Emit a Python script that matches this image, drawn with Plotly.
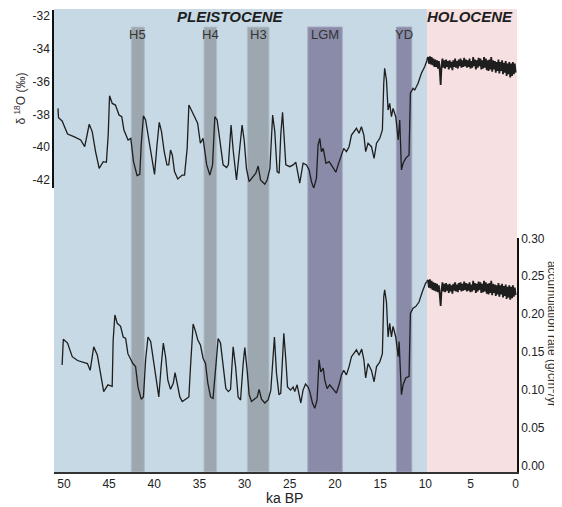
import plotly.graph_objects as go

# ---------------- data ----------------
glacial_age_top = [50.66, 50.6, 50.2, 49.6, 48.9, 48.15, 47.7, 47.2, 46.87, 46.5, 46.1, 45.65, 45.3, 45.1,
    44.95, 44.65, 44.3, 43.9, 43.6, 43.36, 42.9, 42.6, 42.3, 41.9, 41.6, 41.45, 41.2, 40.96, 40.6, 40.2,
    39.97, 39.7, 39.45, 39.2, 38.9, 38.6, 38.4, 38.2, 38.0, 37.76, 37.4, 36.9, 36.65, 36.36, 36.17, 35.9,
    35.6, 35.2, 34.9, 34.6, 34.2, 33.85, 33.55, 33.3, 33.04, 32.74, 32.38, 32.0, 31.8, 31.5, 31.27, 30.9,
    30.6, 30.28, 30.05, 29.8, 29.5, 29.13, 28.76, 28.5, 28.24, 27.77, 27.5, 27.2, 26.9, 26.66, 26.4, 26.18,
    26.0, 25.8, 25.66, 25.44, 25.0, 24.63, 24.33, 24.08, 23.9, 23.53, 23.15, 22.86, 22.6, 22.35, 22.05,
    21.87, 21.68, 21.5, 21.3, 21.0, 20.65, 20.28, 19.9, 19.65, 19.28, 19.03, 18.73, 18.44, 18.17, 17.92,
    17.62, 17.33, 17.07, 16.8, 16.6, 16.34, 15.96, 15.67, 15.4, 15.04, 14.75, 14.6, 14.5, 14.3, 14.12,
    13.94, 13.75, 13.57, 13.27, 13.0, 12.83, 12.64, 12.46, 12.17, 11.8, 11.65, 11.36, 11.17, 10.8, 10.43,
    10.07, 9.8]
glacial_d18o = [-37.63, -38.2, -38.4, -39.2, -39.36, -39.56, -39.97, -38.6, -39.05, -40.27, -41.29, -40.88,
    -40.92, -39.26, -36.86, -37.33, -37.43, -38.04, -38.14, -38.95, -39.56, -39.46, -40.88, -41.73, -41.66,
    -39.87, -38.08, -38.34, -39.56, -40.88, -41.66, -39.87, -38.48, -39.05, -40.27, -41.08, -41.08, -40.17,
    -40.48, -41.49, -41.94, -41.7, -41.7, -40.07, -37.43, -37.73, -38.04, -38.54, -39.76, -39.46, -41.08,
    -41.7, -41.08, -38.14, -38.34, -39.56, -41.08, -41.24, -41.08, -38.65, -40.17, -42.0, -40.27, -38.65,
    -39.56, -41.29, -42.1, -41.86, -41.59, -41.15, -42.0, -42.26, -42.0, -41.29, -38.04, -39.05, -41.49,
    -41.59, -39.26, -37.87, -39.26, -41.08, -41.19, -41.08, -40.92, -41.7, -42.2, -40.98, -41.08, -41.39,
    -42.1, -42.5, -41.9, -39.87, -39.46, -40.27, -40.07, -40.98, -40.88, -41.19, -41.53, -41.08, -40.48,
    -40.07, -40.27, -39.97, -39.26, -39.05, -38.85, -39.15, -38.75, -39.26, -40.27, -39.76, -39.97, -40.68,
    -39.76, -39.46, -38.95, -36.1, -35.19, -35.9, -37.73, -37.33, -38.14, -37.63, -38.14, -39.56, -38.34,
    -41.39, -40.98, -40.68, -40.48, -36.71, -36.41, -36.51, -36.1, -35.49, -35.09, -34.68]

glacial_age_bot = [50.2, 50.07, 49.6, 49.08, 48.5, 47.97, 47.4, 47.1, 46.7, 46.3, 45.9, 45.6, 45.13, 44.66,
    44.55, 44.36, 44.1, 43.73, 43.44, 43.17, 42.92, 42.62, 42.37, 42.07, 41.8, 41.45, 41.2, 40.96, 40.7,
    40.4, 40.04, 39.75, 39.5, 39.24, 39.0, 38.75, 38.5, 38.2, 37.9, 37.7, 37.47, 37.17, 36.9, 36.54, 36.17,
    35.99, 35.7, 35.43, 35.18, 34.88, 34.6, 34.33, 34.07, 33.77, 33.5, 33.19, 32.93, 32.67, 32.38, 32.08,
    31.8, 31.56, 31.27, 31.0, 30.72, 30.45, 30.16, 29.98, 29.72, 29.5, 29.24, 28.87, 28.6, 28.4, 28.13,
    27.77, 27.4, 27.1, 26.85, 26.7, 26.47, 26.2, 26.0, 25.8, 25.66, 25.44, 25.25, 24.92, 24.63, 24.45,
    24.19, 23.97, 23.78, 23.53, 23.26, 22.98, 22.79, 22.49, 22.23, 21.98, 21.76, 21.57, 21.3, 21.13,
    20.87, 20.58, 20.2, 19.84, 19.55, 19.28, 19.03, 18.73, 18.44, 18.17, 17.92, 17.62, 17.33, 17.04,
    16.8, 16.6, 16.34, 15.96, 15.67, 15.4, 15.04, 14.75, 14.6, 14.5, 14.3, 14.12, 13.94, 13.75, 13.57,
    13.27, 13.0, 12.9, 12.64, 12.46, 12.17, 11.8, 11.65, 11.36, 11.06, 10.7, 10.32, 9.96, 9.8]
glacial_acc = [0.133, 0.167, 0.162, 0.144, 0.139, 0.137, 0.135, 0.126, 0.157, 0.146, 0.118, 0.098, 0.107,
    0.105, 0.166, 0.199, 0.188, 0.184, 0.170, 0.168, 0.148, 0.140, 0.135, 0.131, 0.104, 0.088, 0.091,
    0.140, 0.170, 0.164, 0.135, 0.109, 0.091, 0.131, 0.162, 0.144, 0.113, 0.101, 0.109, 0.123, 0.109,
    0.091, 0.085, 0.088, 0.091, 0.131, 0.187, 0.177, 0.166, 0.159, 0.142, 0.135, 0.109, 0.091, 0.089,
    0.131, 0.168, 0.162, 0.131, 0.102, 0.098, 0.101, 0.157, 0.131, 0.091, 0.087, 0.135, 0.156, 0.126,
    0.094, 0.085, 0.089, 0.091, 0.101, 0.088, 0.083, 0.087, 0.100, 0.153, 0.170, 0.122, 0.094, 0.096,
    0.140, 0.175, 0.140, 0.104, 0.100, 0.104, 0.098, 0.107, 0.094, 0.083, 0.100, 0.108, 0.104, 0.098,
    0.083, 0.076, 0.087, 0.140, 0.124, 0.129, 0.113, 0.102, 0.107, 0.102, 0.096, 0.107, 0.120, 0.126,
    0.120, 0.131, 0.144, 0.148, 0.153, 0.146, 0.154, 0.140, 0.116, 0.135, 0.126, 0.111, 0.131, 0.137,
    0.148, 0.223, 0.232, 0.216, 0.170, 0.188, 0.170, 0.184, 0.170, 0.144, 0.164, 0.094, 0.107, 0.116,
    0.118, 0.201, 0.208, 0.210, 0.216, 0.230, 0.241, 0.243]

holocene_age = [9.8, 9.7, 9.6, 9.5, 9.4, 9.3, 9.2, 9.1, 9.0, 8.9, 8.8, 8.7, 8.6, 8.5, 8.4, 8.3, 8.2, 8.1,
    8.0, 7.9, 7.8, 7.7, 7.6, 7.5, 7.4, 7.3, 7.2, 7.1, 7.0, 6.9, 6.8, 6.7, 6.6, 6.5, 6.4, 6.3, 6.2, 6.1,
    6.0, 5.9, 5.8, 5.7, 5.6, 5.5, 5.4, 5.3, 5.2, 5.1, 5.0, 4.9, 4.8, 4.7, 4.6, 4.5, 4.4, 4.3, 4.2, 4.1,
    4.0, 3.9, 3.8, 3.7, 3.6, 3.5, 3.4, 3.3, 3.2, 3.1, 3.0, 2.9, 2.8, 2.7, 2.6, 2.5, 2.4, 2.3, 2.2, 2.1,
    2.0, 1.9, 1.8, 1.7, 1.6, 1.5, 1.4, 1.3, 1.2, 1.1, 1.0, 0.9, 0.8, 0.7, 0.6, 0.5, 0.4, 0.3, 0.2, 0.1,
    0.0]
holocene_d18o = [-34.68, -34.5, -34.9, -34.45, -34.95, -34.5, -35.0, -34.6, -35.1, -34.65, -35.1, -34.7,
    -35.2, -34.75, -35.3, -36.2, -35.0, -34.6, -35.15, -34.7, -35.2, -34.65, -35.1, -34.75, -35.25, -34.7,
    -35.15, -34.8, -35.3, -34.7, -35.1, -34.6, -35.15, -34.75, -35.2, -34.65, -35.05, -34.6, -35.15, -34.7,
    -35.1, -34.55, -35.05, -34.65, -35.15, -34.7, -35.1, -34.6, -35.2, -34.75, -35.15, -34.5, -35.05,
    -34.65, -35.25, -34.7, -35.15, -34.55, -35.05, -34.6, -35.25, -34.7, -35.2, -34.5, -35.15, -34.6,
    -35.3, -34.7, -35.35, -34.65, -35.25, -34.5, -35.4, -34.7, -35.25, -34.75, -35.45, -34.8, -35.35,
    -34.65, -35.5, -34.8, -35.35, -34.7, -35.55, -34.85, -35.45, -34.75, -35.65, -34.9, -35.55, -34.8,
    -35.75, -34.9, -35.65, -34.8, -35.55, -34.9, -35.45]
holocene_acc = [0.243, 0.245, 0.235, 0.246, 0.234, 0.244, 0.232, 0.242, 0.231, 0.241, 0.230, 0.240, 0.229,
    0.238, 0.225, 0.211, 0.232, 0.242, 0.230, 0.240, 0.229, 0.241, 0.231, 0.239, 0.228, 0.240, 0.230,
    0.238, 0.227, 0.240, 0.231, 0.242, 0.230, 0.239, 0.229, 0.241, 0.232, 0.242, 0.230, 0.240, 0.231,
    0.243, 0.232, 0.241, 0.230, 0.240, 0.231, 0.242, 0.229, 0.239, 0.230, 0.244, 0.232, 0.241, 0.228,
    0.240, 0.230, 0.243, 0.232, 0.242, 0.228, 0.240, 0.229, 0.244, 0.230, 0.242, 0.227, 0.240, 0.226,
    0.241, 0.228, 0.244, 0.225, 0.240, 0.228, 0.239, 0.224, 0.238, 0.226, 0.241, 0.223, 0.238, 0.226,
    0.240, 0.222, 0.237, 0.224, 0.239, 0.220, 0.236, 0.222, 0.238, 0.219, 0.236, 0.221, 0.238, 0.223,
    0.235, 0.225]

# periods and events (ka BP)
period_names = ["PLEISTOCENE", "HOLOCENE"]
period_start = [51.1, 9.8]
period_end = [9.8, -0.15]
period_label_x = [31.6, 5.0]

event_names = ["H5", "H4", "H3", "LGM", "YD"]
event_start = [42.55, 34.5, 29.7, 23.0, 13.2]
event_end = [41.1, 33.1, 27.3, 19.2, 11.5]

x_ticks = [50, 45, 40, 35, 30, 25, 20, 15, 10, 5, 0]
d18o_ticks = [-32, -34, -36, -38, -40, -42]
acc_ticks = [0.00, 0.05, 0.10, 0.15, 0.20, 0.25, 0.30]

# ---------------- styling ----------------
FONT = "Liberation Sans, Arial, sans-serif"
period_fill = ["#c6d9e4", "#f6e0e1"]
event_fill = ["#9ca7b0", "#9ca7b0", "#9ca7b0", "#898ba8", "#898ba8"]
event_line = ["#b3bec7", "#b3bec7", "#b3bec7", "#a3a5bf", "#a3a5bf"]
LINE = "#1e1e1e"

fig = go.Figure()
fig.add_trace(go.Scatter(x=glacial_age_top, y=glacial_d18o, mode="lines",
                         line=dict(color=LINE, width=1.3), xaxis="x", yaxis="y",
                         showlegend=False, hoverinfo="skip"))
fig.add_trace(go.Scatter(x=holocene_age, y=holocene_d18o, mode="lines",
                         line=dict(color=LINE, width=1.8), xaxis="x", yaxis="y",
                         showlegend=False, hoverinfo="skip"))
fig.add_trace(go.Scatter(x=glacial_age_bot, y=glacial_acc, mode="lines",
                         line=dict(color=LINE, width=1.3), xaxis="x", yaxis="y2",
                         showlegend=False, hoverinfo="skip"))
fig.add_trace(go.Scatter(x=holocene_age, y=holocene_acc, mode="lines",
                         line=dict(color=LINE, width=1.8), xaxis="x", yaxis="y2",
                         showlegend=False, hoverinfo="skip"))

shapes = []
for s, e, c in zip(period_start, period_end, period_fill):
    shapes.append(dict(type="rect", xref="x", yref="paper", x0=s, x1=e, y0=0, y1=1,
                       fillcolor=c, line=dict(width=0), layer="below"))
for s, e, c, lc in zip(event_start, event_end, event_fill, event_line):
    shapes.append(dict(type="rect", xref="x", yref="paper", x0=s, x1=e, y0=0, y1=0.961,
                       fillcolor=c, line=dict(width=1, color=lc), layer="below"))

annotations = []
for name, xc in zip(period_names, period_label_x):
    annotations.append(dict(text="<b><i>%s</i></b>" % name, x=xc, y=0.983, xref="x", yref="paper",
                            showarrow=False, font=dict(family=FONT, size=15, color="#1e1e1e"),
                            xanchor="center", yanchor="middle"))
for name, s, e in zip(event_names, event_start, event_end):
    annotations.append(dict(text=name, x=(s + e) / 2, y=0.944, xref="x", yref="paper",
                            showarrow=False, font=dict(family=FONT, size=13, color="#333333"),
                            xanchor="center", yanchor="middle"))
annotations.append(dict(text="δ <sup>18</sup>O (‰)", x=-0.073, y=0.807, xref="paper", yref="paper",
                        textangle=-90, showarrow=False, font=dict(family=FONT, size=12, color="#333333"),
                        xanchor="center", yanchor="middle"))
annotations.append(dict(text="accumulation rate (g/cm<sup>2</sup>/yr", x=1.078, y=0.298, xref="paper",
                        yref="paper", textangle=90, showarrow=False,
                        font=dict(family=FONT, size=12, color="#333333"),
                        xanchor="center", yanchor="middle"))
annotations.append(dict(text="ka BP", x=0.497, y=-0.056, xref="paper", yref="paper", showarrow=False,
                        font=dict(family=FONT, size=14, color="#222222"),
                        xanchor="center", yanchor="middle"))

# the page adds an 8px body margin, so the figure is sized/offset to land on the same pixels
fig.update_layout(
    width=554, height=499,
    margin=dict(l=46, r=45, t=1, b=35),
    paper_bgcolor="white", plot_bgcolor="white",
    font=dict(family=FONT, size=12, color="#222222"),
    shapes=shapes, annotations=annotations,
    xaxis=dict(range=[51.1, -0.15], tickvals=x_ticks, ticktext=[str(t) for t in x_ticks],
               showgrid=False, zeroline=False, showline=True, linecolor="#333333", linewidth=2,
               ticks="", anchor="y2", automargin=False,
               tickfont=dict(size=12, family=FONT, color="#222222")),
    yaxis=dict(domain=[0.6134, 0.9978], range=[-42.49, -31.63], tickvals=d18o_ticks,
               ticktext=[str(t) for t in d18o_ticks], showgrid=False, zeroline=False,
               showline=True, linecolor="#111111", linewidth=1.5, ticks="", anchor="x",
               side="left", automargin=False, tickfont=dict(size=12, family=FONT, color="#222222")),
    yaxis2=dict(domain=[0, 0.5054], range=[-0.0079, 0.3004], tickvals=acc_ticks,
                ticktext=["%.2f" % t for t in acc_ticks], showgrid=False, zeroline=False,
                showline=True, linecolor="#111111", linewidth=1.5, ticks="", anchor="x",
                side="right", automargin=False, tickfont=dict(size=12, family=FONT, color="#222222")),
)

fig.write_html("out.html")
